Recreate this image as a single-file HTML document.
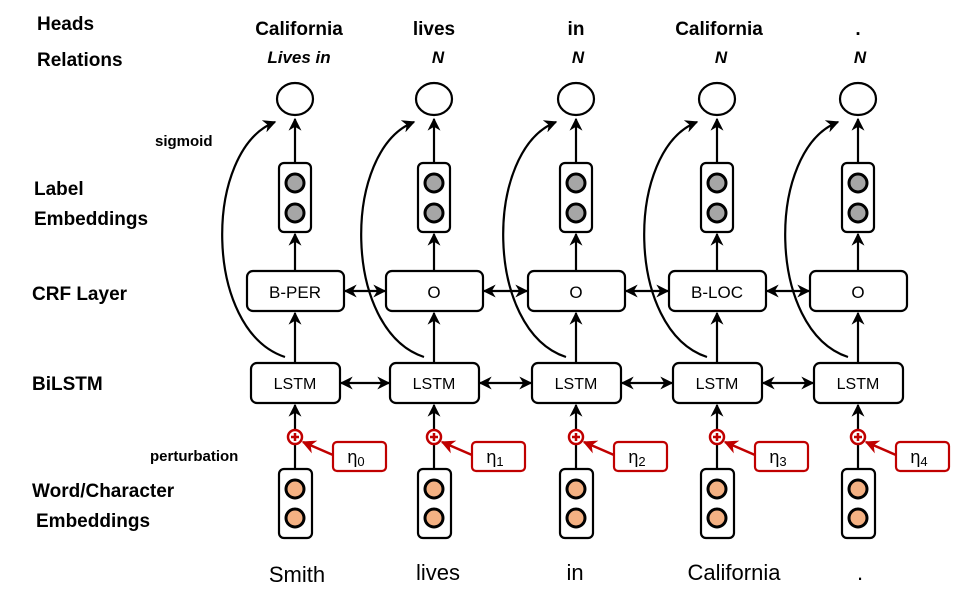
<!DOCTYPE html>
<html><head><meta charset="utf-8"><style>
html,body{margin:0;padding:0;background:#fff;}
svg{display:block;}
text{font-family:"Liberation Sans",sans-serif;}
</style></head><body>
<svg width="978" height="610" viewBox="0 0 978 610" xmlns="http://www.w3.org/2000/svg">
<defs>
<marker id="a" viewBox="0 0 10 10" refX="9" refY="5" markerWidth="13" markerHeight="13" orient="auto-start-reverse" markerUnits="userSpaceOnUse"><path d="M0,0 L10,5 L0,10 L3,5 z" fill="#000"/></marker>
<marker id="r" viewBox="0 0 10 10" refX="9" refY="5" markerWidth="14" markerHeight="14" orient="auto" markerUnits="userSpaceOnUse"><path d="M0,0 L10,5 L0,10 L3,5 z" fill="#c00000"/></marker>
<g id="col" stroke-width="2.2">
<ellipse cx="0" cy="99" rx="18" ry="16" fill="#fff" stroke="#000"/>
<line x1="0" y1="163" x2="0" y2="119" stroke="#000" marker-end="url(#a)"/>
<rect x="-16" y="163" width="32" height="69" rx="5" fill="#fff" stroke="#000"/>
<circle cx="0" cy="183" r="9" fill="#a6a6a6" stroke="#000" stroke-width="3"/>
<circle cx="0" cy="213" r="9" fill="#a6a6a6" stroke="#000" stroke-width="3"/>
<line x1="0" y1="271" x2="0" y2="234" stroke="#000" marker-end="url(#a)"/>
<rect x="-48" y="271" width="97" height="40" rx="6" fill="#fff" stroke="#000"/>
<line x1="0" y1="363" x2="0" y2="313" stroke="#000" marker-end="url(#a)"/>
<rect x="-44" y="363" width="89" height="40" rx="6" fill="#fff" stroke="#000"/>
<path d="M-10,357 C-92,330 -92,150 -20,122" fill="none" stroke="#000" marker-end="url(#a)"/>
<line x1="0" y1="469" x2="0" y2="444" stroke="#000"/>
<line x1="0" y1="430" x2="0" y2="405" stroke="#000" marker-end="url(#a)"/>
<circle cx="0" cy="437" r="7" fill="#fff" stroke="#c00000" stroke-width="2.5"/>
<path d="M-4,437 h8 M0,433 v8" stroke="#c00000" stroke-width="2.5"/>
<line x1="38" y1="455" x2="8" y2="442" stroke="#c00000" stroke-width="2.5" marker-end="url(#r)"/>
<rect x="38" y="442" width="53" height="29" rx="4" fill="#fff" stroke="#c00000"/>
<rect x="-16" y="469" width="33" height="69" rx="5" fill="#fff" stroke="#000"/>
<circle cx="0" cy="489" r="9" fill="#f4b183" stroke="#000" stroke-width="3"/>
<circle cx="0" cy="518" r="9" fill="#f4b183" stroke="#000" stroke-width="3"/>
</g>
</defs>
<use href="#col" x="295"/>
<use href="#col" x="434"/>
<use href="#col" x="576"/>
<use href="#col" x="717"/>
<use href="#col" x="858"/>
<g stroke="#000" stroke-width="2.2">
<line x1="345" y1="291" x2="385" y2="291" marker-start="url(#a)" marker-end="url(#a)"/>
<line x1="484" y1="291" x2="527" y2="291" marker-start="url(#a)" marker-end="url(#a)"/>
<line x1="626" y1="291" x2="668" y2="291" marker-start="url(#a)" marker-end="url(#a)"/>
<line x1="767" y1="291" x2="809" y2="291" marker-start="url(#a)" marker-end="url(#a)"/>
<line x1="341" y1="383" x2="389" y2="383" marker-start="url(#a)" marker-end="url(#a)"/>
<line x1="480" y1="383" x2="531" y2="383" marker-start="url(#a)" marker-end="url(#a)"/>
<line x1="622" y1="383" x2="672" y2="383" marker-start="url(#a)" marker-end="url(#a)"/>
<line x1="763" y1="383" x2="813" y2="383" marker-start="url(#a)" marker-end="url(#a)"/>
</g>
<g font-size="17" text-anchor="middle">
<text x="295" y="298">B-PER</text>
<text x="434" y="298">O</text>
<text x="576" y="298">O</text>
<text x="717" y="298">B-LOC</text>
<text x="858" y="298">O</text>
</g>
<g font-size="16" text-anchor="middle">
<text x="295" y="389">LSTM</text>
<text x="434" y="389">LSTM</text>
<text x="576" y="389">LSTM</text>
<text x="717" y="389">LSTM</text>
<text x="858" y="389">LSTM</text>
</g>
<g font-size="18" text-anchor="middle">
<text x="356" y="463">η<tspan font-size="13" dy="3">0</tspan></text>
<text x="495" y="463">η<tspan font-size="13" dy="3">1</tspan></text>
<text x="637" y="463">η<tspan font-size="13" dy="3">2</tspan></text>
<text x="778" y="463">η<tspan font-size="13" dy="3">3</tspan></text>
<text x="919" y="463">η<tspan font-size="13" dy="3">4</tspan></text>
</g>
<g font-weight="bold" font-size="19" fill="#000">
<text x="37" y="30">Heads</text>
<text x="37" y="66">Relations</text>
<text x="34" y="195">Label</text>
<text x="34" y="225">Embeddings</text>
<text x="32" y="300">CRF Layer</text>
<text x="32" y="390">BiLSTM</text>
<text x="32" y="497">Word/Character</text>
<text x="36" y="527">Embeddings</text>
<text x="155" y="146" font-size="15">sigmoid</text>
<text x="150" y="461" font-size="15">perturbation</text>
</g>
<g font-weight="bold" font-size="19" text-anchor="middle">
<text x="299" y="35">California</text>
<text x="299" y="63" font-style="italic" font-size="17">Lives in</text>
<text x="434" y="35">lives</text>
<text x="438" y="63" font-style="italic" font-size="17">N</text>
<text x="576" y="35">in</text>
<text x="578" y="63" font-style="italic" font-size="17">N</text>
<text x="719" y="35">California</text>
<text x="721" y="63" font-style="italic" font-size="17">N</text>
<text x="858" y="35">.</text>
<text x="860" y="63" font-style="italic" font-size="17">N</text>
</g>
<g font-size="22" text-anchor="middle">
<text x="297" y="582">Smith</text>
<text x="438" y="580">lives</text>
<text x="575" y="580">in</text>
<text x="734" y="580">California</text>
<text x="860" y="580">.</text>
</g>
</svg>
</body></html>
